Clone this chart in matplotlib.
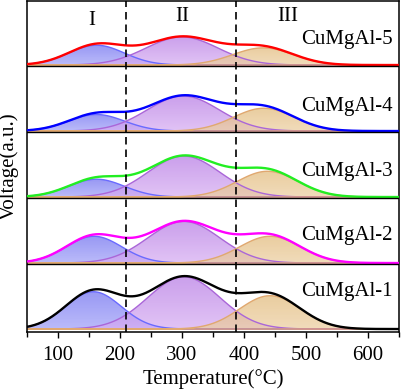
import numpy as np
import matplotlib
matplotlib.use('Agg')
import matplotlib.pyplot as plt
from matplotlib.patches import Polygon
from matplotlib.colors import LinearSegmentedColormap
from matplotlib.ticker import MultipleLocator

# ---------------- data ----------------
samples = ['CuMgAl-1', 'CuMgAl-2', 'CuMgAl-3', 'CuMgAl-4', 'CuMgAl-5']
line_colors = ['#000000', '#ff00ff', '#22ee22', '#0000ff', '#ff0000']
# fitted peak centres (°C)
peak1_center = [157, 158, 162, 162, 162]
peak2_center = [303, 303, 303, 302, 300]
peak3_center = [442, 442, 438, 432, 431]
# fitted peak heights (a.u., one panel = 1)
peak1_height = [0.565, 0.405, 0.27, 0.25, 0.30]
peak2_height = [0.79, 0.63, 0.62, 0.53, 0.425]
peak3_height = [0.505, 0.405, 0.39, 0.345, 0.26]
# fitted peak widths (sigma, °C)
peak1_width = [45, 45, 45, 45, 45]
peak2_width = [58, 58, 58, 58, 58]
peak3_width = [49, 49, 49, 49, 49]
region_labels = ['I', 'II', 'III']
region_bounds = [210, 387]
xticks = [100, 200, 300, 400, 500, 600]
# -----------------------------------------------------------------

plt.rcParams['font.family'] = ['Liberation Serif', 'DejaVu Serif']
FS = 15

fig = plt.figure(figsize=(4.01, 3.91), dpi=100)
ax = fig.add_axes([27/401, 59/391, 372/401, 331/391])

x = np.linspace(50, 650, 601)

fill_top = [(112, 112, 240), (182, 122, 228), (226, 186, 122)]
fill_bot = [(160, 160, 248), (214, 172, 242), (236, 206, 160)]
edge_cols = ['#6a6aff', '#aa66d8', '#e0a870']

def gauss(c, h, s):
    return h * np.exp(-(x - c) ** 2 / (2.0 * s ** 2))

grad = np.linspace(0, 1, 128).reshape(-1, 1)

label_y = [0.565, 0.42, 0.38, 0.37, 0.39]

for i in range(5):
    off = i
    peaks = [gauss(peak1_center[i], peak1_height[i], peak1_width[i]),
             gauss(peak2_center[i], peak2_height[i], peak2_width[i]),
             gauss(peak3_center[i], peak3_height[i], peak3_width[i])]
    total = peaks[0] + peaks[1] + peaks[2]
    hts = [peak1_height[i], peak2_height[i], peak3_height[i]]
    for k in range(3):
        top = tuple(v / 255 for v in fill_top[k]) + (0.72,)
        bot = tuple(v / 255 for v in fill_bot[k]) + (0.72,)
        cmap = LinearSegmentedColormap.from_list('g%d%d' % (i, k), [bot, top])
        verts = np.vstack([np.column_stack([x, off + peaks[k]]),
                           np.column_stack([x[::-1], np.full_like(x, off)])])
        poly = Polygon(verts, closed=True, facecolor='none',
                       edgecolor=edge_cols[k], linewidth=1.0, zorder=2)
        ax.add_patch(poly)
        im = ax.imshow(grad, extent=[50, 650, off, off + hts[k]], origin='lower',
                       aspect='auto', cmap=cmap, zorder=1, interpolation='bilinear')
        im.set_clip_path(poly)
    ax.plot(x, off + total, color=line_colors[i], lw=1.7, zorder=3,
            solid_capstyle='butt')
    ax.text(0.984, off + label_y[i], samples[i], transform=ax.get_yaxis_transform(),
            ha='right', va='center', fontsize=FS, zorder=6)

for k in range(1, 5):
    ax.axhline(k - 0.015, color='black', lw=1.0, zorder=4)

for b in region_bounds:
    ax.axvline(b, color='black', lw=1.2, ls=(0, (4.5, 3)), zorder=5)

for lab, xp, yp in zip(region_labels, [155, 300, 470], [4.68, 4.735, 4.735]):
    ax.text(xp, yp, lab, ha='center', va='center', fontsize=FS, zorder=6)

ax.set_xlim(50, 650)
ax.set_ylim(-0.045, 4.97)
ax.set_xticks(xticks)
ax.set_xticklabels([str(t) for t in xticks], fontsize=FS)
ax.xaxis.set_minor_locator(MultipleLocator(50))
ax.tick_params(axis='x', which='major', direction='out', length=4, width=1.0, pad=6)
ax.tick_params(axis='x', which='minor', direction='out', length=3.5, width=1.0)
ax.set_yticks([])
for s in ax.spines.values():
    s.set_linewidth(1.1)
ax.set_xlabel('Temperature(°C)', fontsize=FS, labelpad=3)
ax.set_ylabel('Voltage(a.u.)', fontsize=FS, labelpad=6)

fig.savefig('out.png', dpi=100)
